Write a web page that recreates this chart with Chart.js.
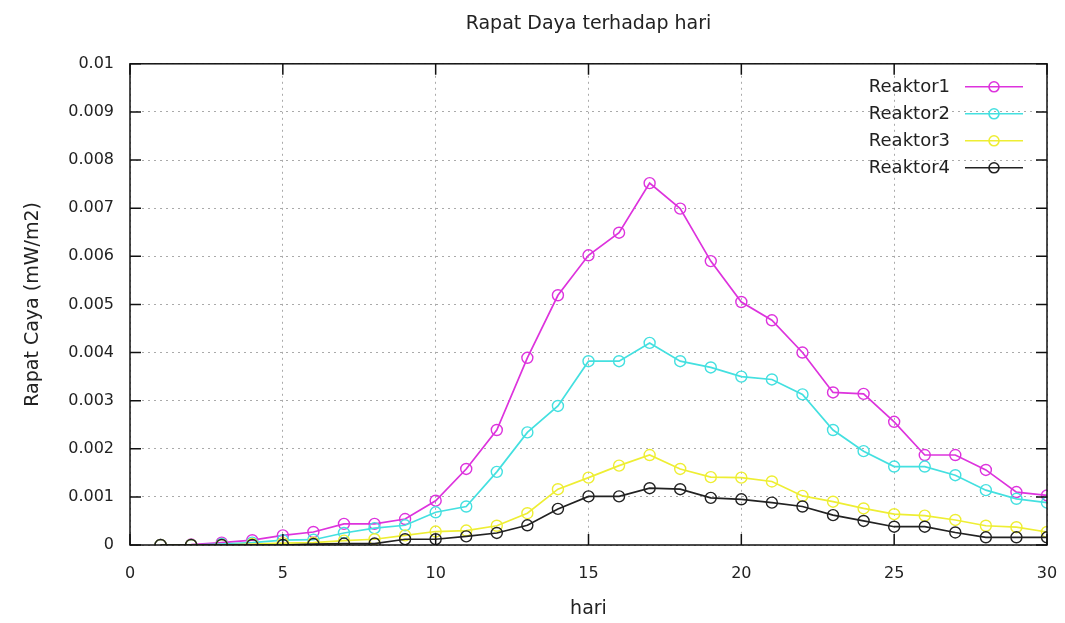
<!DOCTYPE html>
<html>
    <head>
        <meta charset="utf-8">
        <title>Rapat Daya terhadap hari</title>
        <script src="https://cdn.jsdelivr.net/npm/chart.js/dist/chart.umd.min.js"></script>
        <style>
            body { margin: 0; background: #fff; }
            #chartBox { width: 1065px; height: 623px; }
        </style>
    </head>
    <body>
        <div id="chartBox">
            <canvas id="myChart" width="1065" height="623"></canvas>
        </div>

    <script>
        // data
        const hari = [1, 2, 3, 4, 5, 6, 7, 8, 9, 10, 11, 12, 13, 14, 15, 16, 17, 18, 19, 20, 21, 22, 23, 24, 25, 26, 27, 28, 29, 30];
        const reaktor1 = [0, 0.00001, 0.00005, 0.0001, 0.0002, 0.00027, 0.00044, 0.00044, 0.00054, 0.00092, 0.00158, 0.00239, 0.00389, 0.00519, 0.00602, 0.00649, 0.00752, 0.00699, 0.0059, 0.00505, 0.00467, 0.004, 0.00317, 0.00314, 0.00256, 0.00187, 0.00187, 0.00156, 0.0011, 0.00103];
        const reaktor2 = [0, 0, 0.00002, 0.00005, 0.0001, 0.00011, 0.00025, 0.00035, 0.00041, 0.00068, 0.0008, 0.00152, 0.00234, 0.00289, 0.00382, 0.00382, 0.0042, 0.00382, 0.00369, 0.0035, 0.00344, 0.00313, 0.00239, 0.00195, 0.00163, 0.00163, 0.00145, 0.00114, 0.00096, 0.00088];
        const reaktor3 = [0, 0, 0, 0.00002, 0.00004, 0.00005, 0.00009, 0.00012, 0.0002, 0.00028, 0.0003, 0.0004, 0.00066, 0.00116, 0.0014, 0.00165, 0.00187, 0.00158, 0.00141, 0.0014, 0.00132, 0.00102, 0.0009, 0.00076, 0.00064, 0.00061, 0.00052, 0.0004, 0.00037, 0.00027];
        const reaktor4 = [0, 0, 0, 0, 0, 0.00002, 0.00003, 0.00003, 0.00012, 0.00012, 0.00018, 0.00025, 0.00041, 0.00075, 0.00101, 0.00101, 0.00118, 0.00116, 0.00098, 0.00095, 0.00088, 0.0008, 0.00062, 0.0005, 0.00038, 0.00038, 0.00026, 0.00016, 0.00016, 0.00016];

        const seriesNames = ['Reaktor1', 'Reaktor2', 'Reaktor3', 'Reaktor4'];
        const xTickLabels = ['0', '5', '10', '15', '20', '25', '30'];
        const yTickLabels = ['0', '0.001', '0.002', '0.003', '0.004', '0.005', '0.006', '0.007', '0.008', '0.009', '0.01'];

        const font = "'DejaVu Sans', Verdana, sans-serif";
        const colors = ['#dd33dd', '#44e0e0', '#eeee33', '#222222'];

        function toPoints(values) {
            return hari.map((h, i) => ({ x: h, y: values[i] }));
        }

        // gnuplot style frame: box around the plot with inward ticks on every side
        const framePlugin = {
            id: 'frame',
            afterDatasetsDraw(chart) {
                const { ctx, chartArea: a, scales } = chart;
                const len = 11;
                ctx.save();
                ctx.strokeStyle = '#111';
                ctx.lineWidth = 1.5;
                ctx.strokeRect(a.left, a.top, a.right - a.left, a.bottom - a.top);
                ctx.beginPath();
                scales.x.ticks.forEach(t => {
                    const px = scales.x.getPixelForValue(t.value);
                    ctx.moveTo(px, a.bottom); ctx.lineTo(px, a.bottom - len);
                    ctx.moveTo(px, a.top); ctx.lineTo(px, a.top + len);
                });
                scales.y.ticks.forEach(t => {
                    const py = scales.y.getPixelForValue(t.value);
                    ctx.moveTo(a.left, py); ctx.lineTo(a.left + len, py);
                    ctx.moveTo(a.right, py); ctx.lineTo(a.right - len, py);
                });
                ctx.stroke();
                ctx.restore();
            }
        };

        // legend inside the top right corner, text left of the sample
        const keyPlugin = {
            id: 'key',
            afterDraw(chart) {
                const { ctx, chartArea: a } = chart;
                const textRight = a.right - 97;
                const lineStart = a.right - 82;
                const lineEnd = a.right - 24;
                ctx.save();
                ctx.font = '18px ' + font;
                ctx.textAlign = 'right';
                ctx.textBaseline = 'middle';
                chart.data.datasets.forEach((ds, i) => {
                    const y = a.top + 23 + i * 27;
                    ctx.fillStyle = '#222';
                    ctx.fillText(ds.label, textRight, y + 1);
                    ctx.strokeStyle = ds.borderColor;
                    ctx.lineWidth = 1.6;
                    ctx.beginPath();
                    ctx.moveTo(lineStart, y);
                    ctx.lineTo(lineEnd, y);
                    ctx.stroke();
                    ctx.beginPath();
                    ctx.arc((lineStart + lineEnd) / 2, y, 5, 0, Math.PI * 2);
                    ctx.stroke();
                });
                ctx.restore();
            }
        };

        const allSeries = [reaktor1, reaktor2, reaktor3, reaktor4];
        const datasets = allSeries.map((s, i) => ({
            label: seriesNames[i],
            data: toPoints(s),
            borderColor: colors[i],
            backgroundColor: 'transparent',
            borderWidth: 1.7,
            pointRadius: 5.5,
            pointBorderWidth: 1.4,
            pointBackgroundColor: 'transparent',
            pointBorderColor: colors[i],
            order: 4 - i
        }));

        const ctx = document.getElementById('myChart').getContext('2d');
        const myChart = new Chart(ctx, {
            type: 'line',
            data: { datasets: datasets },
            plugins: [framePlugin, keyPlugin],
            options: {
                responsive: false,
                animation: false,
                layout: { padding: 0 },
                plugins: {
                    legend: { display: false },
                    tooltip: { enabled: false },
                    title: {
                        display: true,
                        fullSize: false,
                        text: 'Rapat Daya terhadap hari',
                        color: '#222',
                        font: { family: font, size: 19, weight: 'normal' },
                        padding: { top: 13, bottom: 28 }
                    }
                },
                scales: {
                    x: {
                        type: 'linear',
                        min: 0,
                        max: 30,
                        afterFit(scale) {
                            scale.height = 78;
                            scale.paddingLeft = 0;
                            scale.paddingRight = 18;
                        },
                        ticks: {
                            stepSize: 5,
                            padding: 19,
                            color: '#222',
                            font: { family: font, size: 16 },
                            callback: (v, i) => xTickLabels[i]
                        },
                        grid: { color: '#aaaaaa', lineWidth: 1, drawTicks: false },
                        border: { display: false, dash: [2, 4] },
                        title: {
                            display: true,
                            text: 'hari',
                            color: '#222',
                            font: { family: font, size: 19 },
                            padding: { top: 4, bottom: 3 }
                        }
                    },
                    y: {
                        min: 0,
                        max: 0.01,
                        afterFit(scale) { scale.width = 130; },
                        ticks: {
                            stepSize: 0.001,
                            padding: 16,
                            color: '#222',
                            font: { family: font, size: 16 },
                            callback: (v, i) => yTickLabels[i]
                        },
                        grid: { color: '#aaaaaa', lineWidth: 1, drawTicks: false },
                        border: { display: false, dash: [2, 4] },
                        title: {
                            display: true,
                            text: 'Rapat Caya (mW/m2)',
                            color: '#222',
                            font: { family: font, size: 19 },
                            padding: { top: 22, bottom: 4 }
                        }
                    }
                }
            }
        });
    </script>

    </body>
</html>
